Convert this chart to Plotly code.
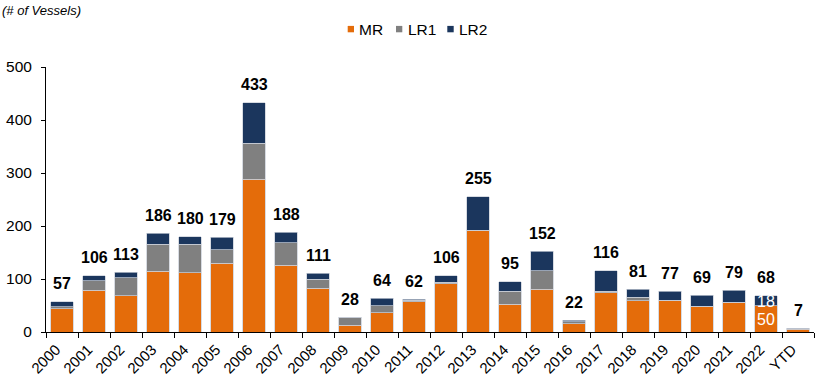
import plotly.graph_objects as go

categories = ["2000", "2001", "2002", "2003", "2004", "2005", "2006", "2007", "2008", "2009",
              "2010", "2011", "2012", "2013", "2014", "2015", "2016", "2017", "2018", "2019",
              "2020", "2021", "2022", "YTD"]
mr = [44, 79, 68, 115, 112, 130, 288, 126, 83, 13, 36, 57, 91, 192, 52, 81, 16, 74, 59, 59, 48, 55, 50, 5]
lr1 = [4, 18, 34, 51, 54, 25, 68, 42, 17, 15, 14, 3, 3, 0, 25, 35, 3, 3, 7, 1, 1, 1, 0, 1]
lr2 = [9, 9, 11, 20, 14, 24, 77, 20, 11, 0, 14, 2, 12, 63, 18, 36, 3, 39, 15, 17, 20, 23, 18, 1]
totals = [a + b + c for a, b, c in zip(mr, lr1, lr2)]
y_ticks = [0, 100, 200, 300, 400, 500]
series_names = ["MR", "LR1", "LR2"]
series_colors = ["#E46C0A", "#808080", "#1B365D"]

FONT = "Liberation Sans, Arial, sans-serif"
edge = dict(color="rgba(200,205,215,0.9)", width=0.8)
W, H = 817, 386
ML, MR_, MT, MB = 46, 3, 67, 54
PW, PH = W - ML - MR_, H - MT - MB


def px2x(px):
    return (px - ML) / PW


def px2y(py):
    return (H - MB - py) / PH


fig = go.Figure()
for name, vals, col in zip(series_names, [mr, lr1, lr2], series_colors):
    fig.add_bar(x=categories, y=vals, name=name, showlegend=False,
                marker=dict(color=col, line=edge))

# bold totals above each bar
for i, t in enumerate(totals):
    fig.add_annotation(x=i, y=t, text=f"<b>{t}</b>", showarrow=False, yshift=18,
                       font=dict(family=FONT, size=16, color="black"))

# white segment labels on 2022
i22 = categories.index("2022")
fig.add_annotation(x=i22, y=mr[i22] + lr2[i22] / 2, text=str(lr2[i22]), showarrow=False,
                   yshift=-1, font=dict(family=FONT, size=16, color="white"))
fig.add_annotation(x=i22, y=mr[i22] / 2, text=str(mr[i22]), showarrow=False,
                   yshift=-1, font=dict(family=FONT, size=16, color="white"))

# unit note
fig.add_annotation(xref="paper", yref="paper", x=px2x(0), y=px2y(10), xanchor="left",
                   yanchor="middle", text="<i>(# of Vessels)</i>", showarrow=False,
                   font=dict(family=FONT, size=13, color="black"))

# legend (compact, Excel-style)
leg_sq = [(347.7, 354.0), (396.0, 402.3), (447.3, 453.7)]
leg_tx = [358.3, 406.7, 457.7]
for name, col, (x0, x1), tx in zip(series_names, series_colors, leg_sq, leg_tx):
    fig.add_shape(type="rect", xref="paper", yref="paper", x0=px2x(x0), x1=px2x(x1),
                  y0=px2y(32.3), y1=px2y(25.9), fillcolor=col, line=dict(width=0))
    fig.add_annotation(xref="paper", yref="paper", x=px2x(tx - 1), y=px2y(29.5), xanchor="left",
                       yanchor="middle", text=name, showarrow=False,
                       font=dict(family=FONT, size=15.5, color="black"))

fig.update_layout(
    barmode="stack",
    bargap=0.31,
    width=W, height=H,
    margin=dict(l=ML, r=MR_, t=MT, b=MB, autoexpand=False),
    plot_bgcolor="white", paper_bgcolor="white",
    font=dict(family=FONT, size=14, color="black"),
    showlegend=False,
)
fig.update_xaxes(type="category", categoryorder="array", categoryarray=categories,
                 range=[-0.5, len(categories) - 0.5], automargin=False,
                 showline=True, linecolor="black", linewidth=1, ticks="outside",
                 tickson="boundaries", ticklen=5, tickcolor="black", tickangle=-45,
                 ticklabelshift=-6, ticklabelstandoff=2,
                 tickfont=dict(family=FONT, size=15), showgrid=False)
fig.update_yaxes(range=[0, 500], tickvals=y_ticks, showline=True, linecolor="black", linewidth=1,
                 automargin=False, ticklabelstandoff=6,
                 ticks="outside", ticklen=4, tickcolor="black", showgrid=False, zeroline=False,
                 tickfont=dict(family=FONT, size=15.5))

fig.write_html("out.html", config={"displayModeBar": False},
               post_script="document.body.style.margin='0';")
